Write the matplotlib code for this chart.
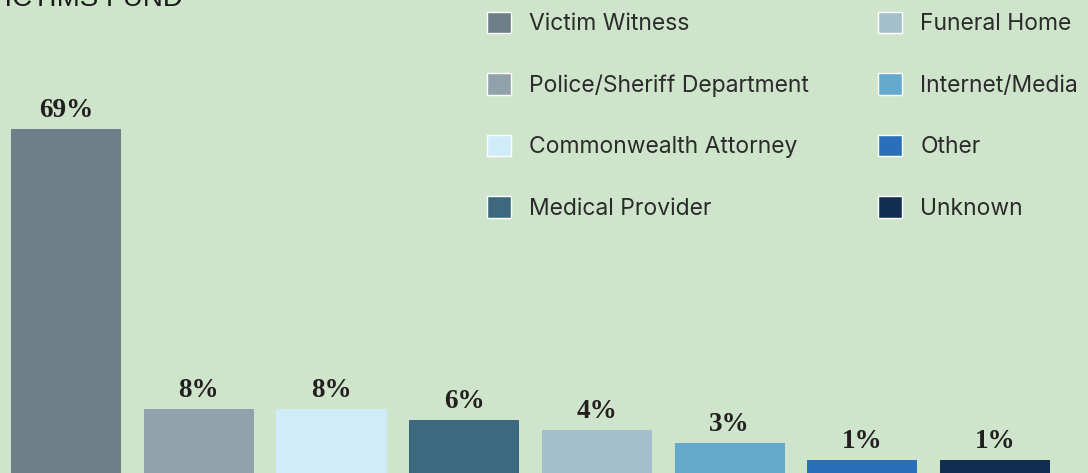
import matplotlib
matplotlib.use("Agg")
import matplotlib.pyplot as plt
from matplotlib.patches import Patch

# categories, in bar order
sources = ["Victim Witness", "Police/Sheriff Department", "Commonwealth Attorney",
           "Medical Provider", "Funeral Home", "Internet/Media", "Other", "Unknown"]
# printed percentages
shares = [69, 8, 8, 6, 4, 3, 1, 1]
# bar heights as drawn in the original (the bars are not to scale with the labels)
bar_heights = [69, 12.8, 12.8, 10.6, 8.6, 6.0, 2.6, 2.6]
colors = ["#6e7f88", "#91a2aa", "#d0ecf9", "#3d697e",
          "#a2bfcb", "#65a9cc", "#2970b8", "#132d50"]

BG = "#cfe5cb"
W, H = 1088, 473


def fx(px):
    return px / W


def fy(py):
    return 1 - py / H


fig = plt.figure(figsize=(W / 100, H / 100), dpi=100, facecolor=BG)
ax = fig.add_axes([0, 0, 1, 1])
ax.set_facecolor(BG)

x = list(range(len(sources)))
ax.bar(x, bar_heights, width=0.83, color=colors, linewidth=0)
for xi, h, s in zip(x, bar_heights, shares):
    ax.annotate(f"{s}%", xy=(xi, h), xytext=(0, 8.6), textcoords="offset points",
                ha="center", va="baseline", fontsize=19.5, fontweight="bold",
                family="Liberation Serif", color="#231f20")

ax.set_xlim(-0.497, 7.70)
ax.set_ylim(0, 94.9)
ax.axis("off")

# title, cut off by the top edge as in the source image
fig.text(fx(183), fy(6), "VICTIMS FUND", ha="right", va="baseline",
         fontsize=20, family="Liberation Sans", color="#1a1a1a")

handles = [Patch(facecolor=c, edgecolor="white", linewidth=1) for c in colors]
leg_opts = dict(frameon=False, prop={"family": "Inter", "size": 16.5},
                handlelength=1.05, handleheight=1.05, handletextpad=0.8,
                labelspacing=1.66, borderpad=0, borderaxespad=0, loc="upper left",
                bbox_transform=fig.transFigure, labelcolor="#2b2b2b")
fig.legend(handles[:4], sources[:4], bbox_to_anchor=(fx(487), fy(12)), **leg_opts)
fig.legend(handles[4:], sources[4:], bbox_to_anchor=(fx(878), fy(12)), **leg_opts)

fig.savefig("out.png", dpi=100, facecolor=BG)
